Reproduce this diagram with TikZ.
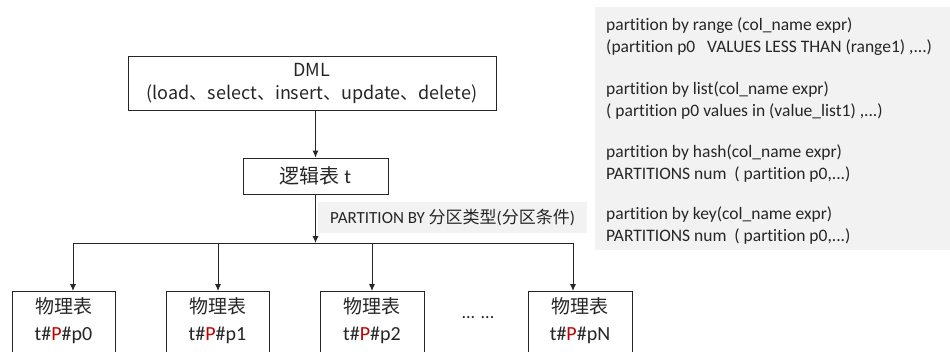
\documentclass[tikz,border=0pt]{standalone}
\usepackage{fontspec}
\setmainfont{Carlito}[Ligatures={NoCommon}]
\newfontfamily\cjk{Noto Sans CJK SC}
\usetikzlibrary{arrows.meta}
\definecolor{panelgray}{HTML}{F2F2F2}
\definecolor{pred}{HTML}{C00000}
\definecolor{ink}{HTML}{262626}
\begin{document}
\begin{tikzpicture}[x=1pt,y=-1pt,
  box/.style={draw=ink, line width=0.9pt, fill=white, inner sep=0pt},
  link/.style={draw=ink, line width=0.9pt, -{Latex[length=7pt,width=6pt]}},
  wire/.style={draw=ink, line width=0.9pt},
  note/.style={anchor=base west, inner sep=0pt, text=ink, font=\fontsize{17.5}{20}\selectfont},
  ptext/.style={align=center, inner sep=0pt, text=ink, font=\fontsize{20}{27}\selectfont}]
\useasboundingbox (0,0) rectangle (950,351);

% syntax panel on the right
\node[fill=panelgray, anchor=north west, minimum width=355pt, minimum height=243pt, inner sep=0pt] (panel) at (595,7) {};
\foreach \yy/\txt [count=\i] in {
  30/{partition by range (col\_name expr)},
  52/{(partition p0\ \ \ VALUES LESS THAN (range1) ,...)},
  94/{partition by list(col\_name expr)},
  116/{( partition p0 values in (value\_list1) ,...)},
  157/{partition by hash(col\_name expr)},
  179/{PARTITIONS num\ \ ( partition p0,...)},
  219/{partition by key(col\_name expr)},
  241/{PARTITIONS num\ \ ( partition p0,...)}}
  \node[note] (line\i) at (606,\yy) {\txt};

% DML and logical table
\node[box, minimum width=368pt, minimum height=54pt, align=center, text=ink,
      font=\cjk\fontsize{18}{23}\selectfont] (dml) at (312,83)
      {DML\\(load、select、insert、update、delete)};
\node[box, minimum width=145pt, minimum height=36pt, text=ink,
      font=\fontsize{20}{24}\selectfont] (logic) at (315.5,176)
      {{\cjk 逻辑表} t};
\draw[link] (logic.north |- dml.south) -- (logic.north);

% partition label
\node[fill=panelgray, anchor=west, minimum height=31pt, inner xsep=12pt, inner ysep=0pt,
      text=ink, font=\fontsize{17}{20}\selectfont] (label) at (318,217.5)
      {PARTITION BY {\cjk 分区类型}({\cjk 分区条件})};

% fan-out
\coordinate (hub) at (315.5,243);
\draw[link] (logic.south) -- (hub);
\coordinate (d0) at (73,243);
\coordinate (d1) at (218,243);
\coordinate (d2) at (372,243);
\coordinate (d3) at (573,243);
\draw[wire] (d0) -- (d3);

% physical tables
\node[box, anchor=north, minimum width=103pt, minimum height=75pt] (p0) at (63.5,291) {};
\node[box, anchor=north, minimum width=103pt, minimum height=75pt] (p1) at (217.5,291) {};
\node[box, anchor=north, minimum width=104pt, minimum height=75pt] (p2) at (372,291) {};
\node[box, anchor=north, minimum width=104pt, minimum height=75pt] (p3) at (580,291) {};
\foreach \k/\suffix in {0/p0,1/p1,2/p2,3/pN}
  \node[ptext] (t\k) at ([yshift=-30pt]p\k.north)
    {{\cjk\fontsize{19}{27}\selectfont 物理表}\\t\#\textcolor{pred}{P}\#\suffix};
\foreach \k in {0,1,2,3}
  \draw[link] (d\k) -- (d\k |- p\k.north);

\node[text=ink, font=\fontsize{18}{20}\selectfont, inner sep=0pt] (dots) at (478,318) {... ...};
\end{tikzpicture}
\end{document}
